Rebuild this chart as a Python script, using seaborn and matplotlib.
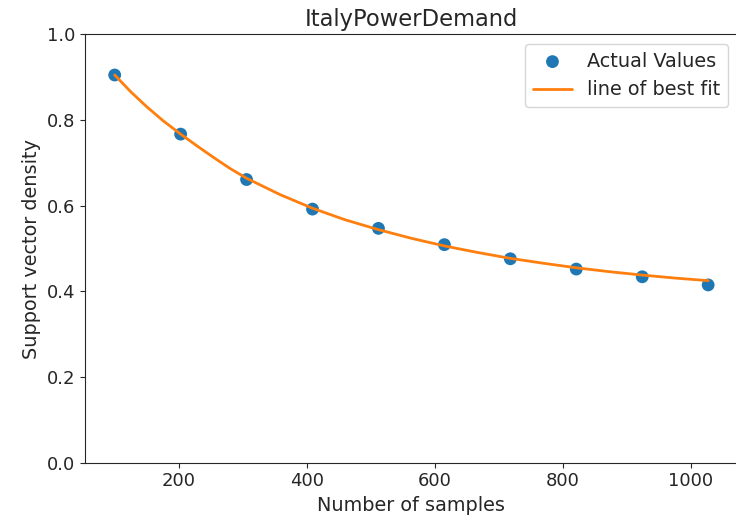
import numpy as np
import pandas as pd
import matplotlib
matplotlib.use('Agg')
import matplotlib.pyplot as plt
import seaborn as sns

# ── Dados ─────────────────────────────────────────────────────────────────────
n_samples = [100, 203, 306, 409, 512, 615, 718, 821, 924, 1027]
sv_density = [0.905, 0.767, 0.661, 0.592, 0.547, 0.509, 0.476, 0.452, 0.434, 0.415]

# curva de ajuste lida ponto a ponto do gráfico
fit_x = [100, 125, 150, 175, 203, 230, 255, 280, 306, 358, 409, 460, 512, 563,
         615, 666, 718, 770, 821, 872, 924, 975, 1027]
fit_y = [0.905, 0.866, 0.831, 0.799, 0.767, 0.738, 0.712, 0.687, 0.664, 0.626,
         0.594, 0.567, 0.544, 0.524, 0.506, 0.491, 0.477, 0.4655, 0.455, 0.446,
         0.438, 0.431, 0.425]

pontos = pd.DataFrame({'x': n_samples, 'y': sv_density})
ajuste = pd.DataFrame({'x': fit_x, 'y': fit_y})

sns.set_style('ticks')
plt.rcParams['font.family'] = ['DejaVu Sans']

fig = plt.figure(figsize=(7.36, 5.31), dpi=100)
ax = fig.add_axes([0.1155, 0.1286, 0.887, 0.8068])

sns.scatterplot(data=pontos, x='x', y='y', ax=ax, color='#1f77b4', s=85,
                edgecolor='none', label='Actual Values', zorder=2)
sns.lineplot(data=ajuste, x='x', y='y', ax=ax, color='#ff7f0e', linewidth=2,
             label='line of best fit', zorder=3)

ax.set_ylim(0, 1.0)
ax.set_yticks([0.0, 0.2, 0.4, 0.6, 0.8, 1.0])
ax.set_xticks([200, 400, 600, 800, 1000])
ax.set_xlabel('Number of samples', fontsize=13.9)
ax.set_ylabel('Support vector density', fontsize=13.9)
ax.set_title('ItalyPowerDemand', fontsize=16.3)
ax.tick_params(labelsize=13)
ax.legend(loc='upper right', fontsize=13.9)

fig.savefig('out.png', dpi=100)
